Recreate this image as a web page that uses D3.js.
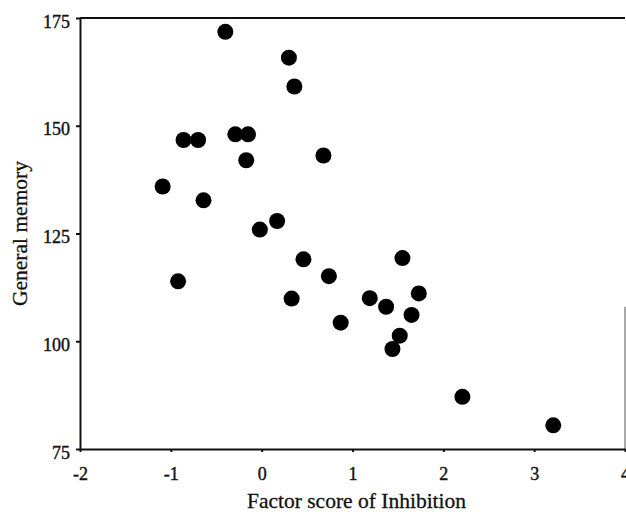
<!DOCTYPE html>
<html>
<head>
<meta charset="utf-8">
<script src="https://cdn.jsdelivr.net/npm/d3@7"></script>
<style>
  body { margin: 0; background: #fff; }
</style>
</head>
<body>
<div id="chart"></div>
<script>
// factor score of inhibition (x) and general memory (y), one entry per subject
const inhibition = [
  -0.40, 0.30, 0.36, -0.86, -0.70, -0.29, -0.15, -0.17, 0.68,
  -1.09, -0.64, 0.17, -0.02, -0.92, 0.46, 0.74, 0.33, 0.87,
  1.55, 1.19, 1.37, 1.73, 1.65, 1.52, 1.44, 2.21, 3.21
];
const memory = [
  171.8, 165.8, 159.1, 146.7, 146.7, 148.0, 148.0, 142.0, 143.1,
  135.9, 132.7, 127.9, 125.9, 113.9, 119.0, 115.1, 109.9, 104.3,
  119.3, 110.0, 108.0, 111.1, 106.1, 101.3, 98.2, 87.1, 80.5
];
const xTicks = [-2, -1, 0, 1, 2, 3, 4];
const yTicks = [75, 100, 125, 150, 175];

const settings = {
  width: 626,
  height: 512,
  margin: { top: 18, right: 1, bottom: 63, left: 80 },
  dotRadius: 8,
  font: "'Liberation Serif', 'Times New Roman', serif",
  tickFont: 18,
  titleFont: 21.5,
  ink: "#111",
};

function drawChart(settings) {
  const svg = d3.select("#chart")
    .append("svg")
    .attr("width", settings.width)
    .attr("height", settings.height);

  const m = settings.margin;
  const innerW = settings.width - m.left - m.right;
  const innerH = settings.height - m.top - m.bottom;

  const x = d3.scaleLinear().domain([-2, 4]).range([0, innerW]);
  const y = d3.scaleLinear().domain([75, 175]).range([innerH, 0]);

  const g = svg.append("g").attr("transform", `translate(${m.left},${m.top})`);

  // top border of the plot frame
  g.append("line")
    .attr("x1", 0).attr("x2", innerW)
    .attr("y1", 0).attr("y2", 0)
    .attr("stroke", settings.ink).attr("stroke-width", 2);

  // faint right border (only the lower part survived in the scan)
  g.append("line")
    .attr("x1", innerW).attr("x2", innerW)
    .attr("y1", y(108)).attr("y2", y(75))
    .attr("stroke", "#555").attr("stroke-width", 1);

  // plain hyphen for negatives, like the original print
  const fmt = (d) => String(d);

  // x axis
  const xAxis = g.append("g")
    .attr("transform", `translate(0,${innerH})`)
    .call(d3.axisBottom(x).tickValues(xTicks).tickFormat(fmt)
      .tickSize(3).tickSizeOuter(0).tickPadding(15));

  // y axis
  const yAxis = g.append("g")
    .call(d3.axisLeft(y).tickValues(yTicks).tickFormat(fmt)
      .tickSize(4).tickSizeOuter(0).tickPadding(6));

  [xAxis, yAxis].forEach((a) => {
    a.select(".domain").attr("stroke", settings.ink).attr("stroke-width", 2);
    a.selectAll(".tick line").attr("stroke", settings.ink).attr("stroke-width", 2);
    a.selectAll(".tick text")
      .attr("fill", settings.ink)
      .attr("stroke", settings.ink)
      .attr("stroke-width", 0.4)
      .style("font-family", settings.font)
      .style("font-size", settings.tickFont + "px");
  });
  yAxis.selectAll(".tick text").attr("dy", "0.5em");
  xAxis.selectAll(".tick text").attr("dy", "0.71em");

  // points
  g.selectAll("circle")
    .data(d3.zip(inhibition, memory))
    .enter()
    .append("circle")
    .attr("cx", (d) => x(d[0]))
    .attr("cy", (d) => y(d[1]))
    .attr("r", settings.dotRadius)
    .attr("fill", "#000");

  // axis titles
  svg.append("text")
    .attr("x", m.left + innerW / 2 + 4)
    .attr("y", 508)
    .attr("text-anchor", "middle")
    .style("font-family", settings.font)
    .style("font-size", settings.titleFont + "px")
    .attr("fill", settings.ink)
    .attr("stroke", settings.ink)
    .attr("stroke-width", 0.3)
    .text("Factor score of Inhibition");

  svg.append("text")
    .attr("transform", `translate(27,${m.top + innerH / 2}) rotate(-90)`)
    .attr("text-anchor", "middle")
    .style("font-family", settings.font)
    .style("font-size", settings.titleFont + "px")
    .attr("fill", settings.ink)
    .attr("stroke", settings.ink)
    .attr("stroke-width", 0.3)
    .text("General memory");
}

drawChart(settings);
</script>
</body>
</html>
